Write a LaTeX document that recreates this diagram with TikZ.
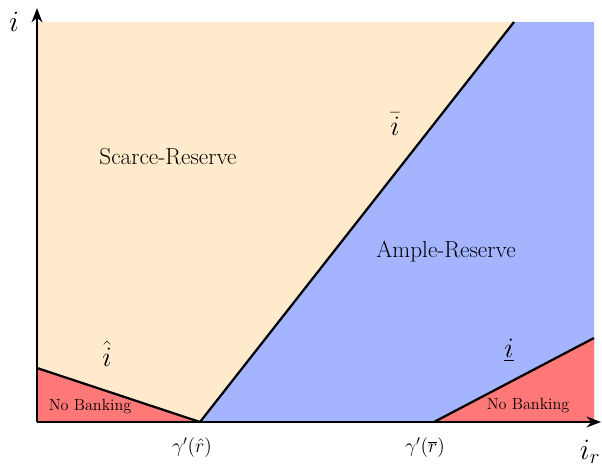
\RequirePackage{fix-cm}
\documentclass[tikz,border=0pt]{standalone}
\usetikzlibrary{arrows.meta}
\definecolor{scarce}{RGB}{255,235,204}
\definecolor{ample}{RGB}{164,180,255}
\definecolor{nobank}{RGB}{255,120,120}
\tikzset{
  region/.style={font=\fontsize{16.5}{20}\selectfont},
  bound/.style={font=\fontsize{20}{24}\selectfont},
  tick/.style={font=\fontsize{14}{17}\selectfont},
  nobanking/.style={font=\fontsize{11.5}{14}\selectfont},
  axis/.style={font=\fontsize{21}{25}\selectfont}
}
\begin{document}
\begin{tikzpicture}[>=Stealth,line width=1.6pt]
  \useasboundingbox (0,0) rectangle (15.05,11.6);
  \coordinate (O) at (0.925,1.05);
  \coordinate (Ytop) at (0.925,11.05);
  \coordinate (Corner) at (14.85,11.05);
  \coordinate (Xend) at (14.85,1.05);
  \coordinate (Rhat) at (5.0,1.05);
  \coordinate (Rbar) at (10.85,1.05);
  \coordinate (Ibar) at (12.85,11.05);
  \coordinate (Ihat) at (0.925,2.4);
  \coordinate (Iund) at (14.85,3.15);
  % regions
  \fill[scarce] (O) -- (Ytop) -- (Ibar) -- (Rhat) -- cycle;
  \fill[ample] (Rhat) -- (Ibar) -- (Corner) -- (Xend) -- cycle;
  \fill[nobank] (O) -- (Ihat) -- (Rhat) -- cycle;
  \fill[nobank] (Rbar) -- (Iund) -- (Xend) -- cycle;
  % boundaries
  \draw (Rhat) -- (Ibar);
  \draw (Ihat) -- (Rhat);
  \draw (Rbar) -- (Iund);
  % axes
  \draw[->] (O) -- (15.025,1.05);
  \draw[->] (O) -- (0.925,11.4);
  \node[axis] (yl) at (0.35,11.05) {$i$};
  \node[axis] (xl) at (14.75,0.3) {$i_r$};
  \node[tick] (gh) at (4.8,0.4) {$\gamma'(\hat{r})$};
  \node[tick] (gb) at (10.625,0.4) {$\gamma'(\overline{r})$};
  \node[region] (sr) at (4.2,7.675) {Scarce-Reserve};
  \node[region] (ar) at (11.15,5.3) {Ample-Reserve};
  \node[bound] (ib) at (9.875,8.5) {$\bar{i}$};
  \node[bound] (ih) at (2.675,2.75) {$\hat{i}$};
  \node[bound] (iu) at (12.725,2.85) {$\underline{i}$};
  \node[nobanking] (nb1) at (2.25,1.425) {No Banking};
  \node[nobanking] (nb2) at (13.2,1.45) {No Banking};
\end{tikzpicture}
\end{document}
